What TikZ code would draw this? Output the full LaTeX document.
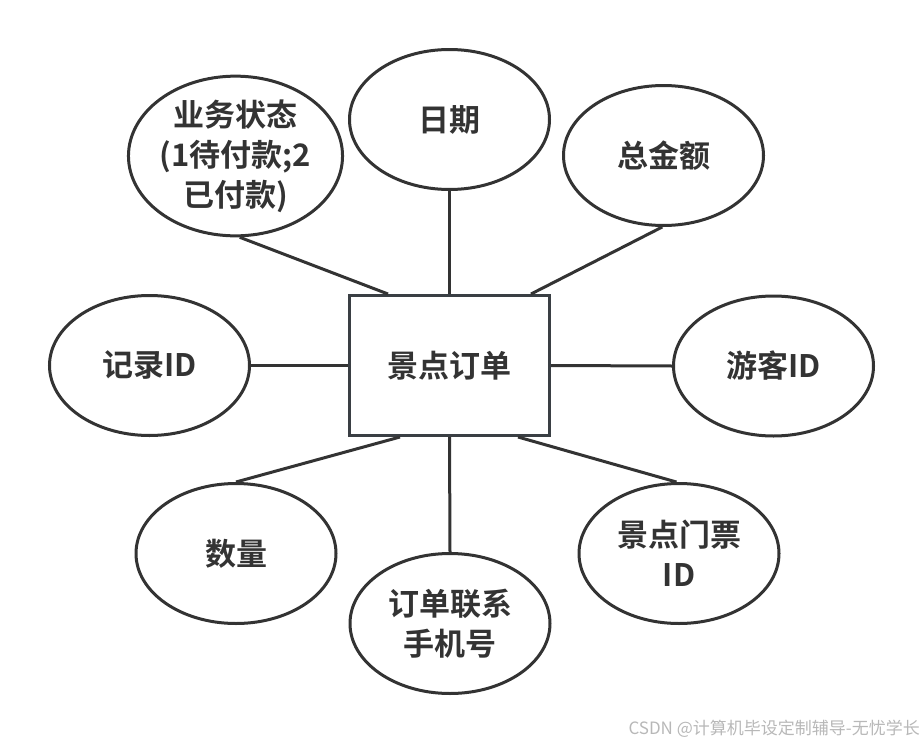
\documentclass[tikz,border=0pt]{standalone}
\usepackage{fontspec}
\setmainfont{Noto Sans CJK SC}
\newfontfamily\cjkbold{Noto Sans CJK SC Bold}
\usetikzlibrary{shapes.geometric}
\definecolor{ink}{HTML}{333333}
\definecolor{boxline}{HTML}{3A3F44}
\definecolor{wm}{HTML}{B8B8B8}
\tikzset{
  attr/.style={draw=ink, line width=3pt, ellipse, minimum width=200pt, minimum height=140pt,
    inner sep=0pt, align=center, text=ink, font=\cjkbold\fontsize{31}{40}\selectfont},
  entity/.style={draw=boxline, line width=3pt, rectangle, minimum width=200pt, minimum height=140pt,
    inner sep=0pt, align=center, text=ink, font=\cjkbold\fontsize{31}{40}\selectfont},
  link/.style={draw=ink, line width=3pt}
}
\begin{document}
\begin{tikzpicture}[x=1pt, y=-1pt]
\useasboundingbox (0,0) rectangle (924,744);
\node[entity] (order) at (449.5,365.5) {景点订单};
\node[attr] (ywzt) at (235.5,156) {业务状态\\(1待付款;2\\已付款)};
\node[attr] (riqi) at (449.5,119.5) {日期};
\node[attr] (zje) at (663.5,155.5) {总金额};
\node[attr] (jlid) at (149.5,365.5) {记录ID};
\node[attr] (ykid) at (773.5,366) {游客ID};
\node[attr] (shuliang) at (236,553.5) {数量};
\node[attr] (sjh) at (450,623.5) {订单联系\\手机号};
\node[attr] (mpid) at (679,553.5) {景点门票\\ID};
\draw[link] (ywzt.-87) -- ([xshift=-61.5pt]order.north);
\draw[link] (riqi.south) -- (order.north);
\draw[link] (zje.-91) -- ([xshift=81.5pt]order.north);
\draw[link] (jlid.east) -- (order.west);
\draw[link] (order.east) -- (ykid.west);
\draw[link] (shuliang.north) -- ([xshift=-49.5pt]order.south);
\draw[link] (order.south) -- (sjh.north);
\draw[link] ([xshift=68.5pt]order.south) -- (mpid.92);
\node[anchor=east, text=wm, font=\fontsize{17}{20}\selectfont, inner sep=0pt] (wmark) at (920,729) {CSDN @计算机毕设定制辅导-无忧学长};
\end{tikzpicture}
\end{document}
